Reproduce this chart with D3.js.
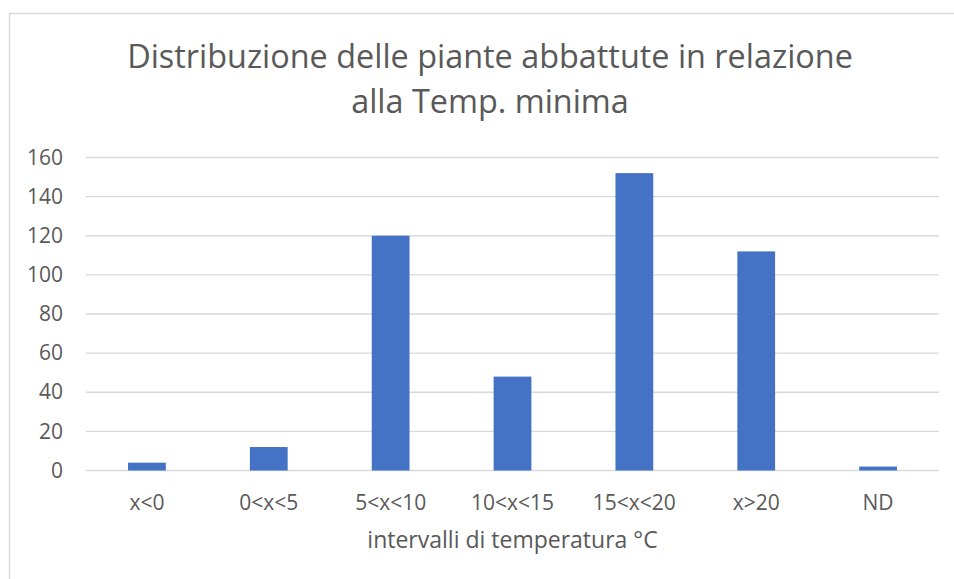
<!DOCTYPE html>
<html><head><meta charset="utf-8">
<script src="https://cdn.jsdelivr.net/npm/d3@7"></script>
<style>html,body{margin:0;padding:0;background:#fff;}</style>
</head><body>
<svg id="c" width="954" height="579"></svg>
<script>
const categories = ["x<0","0<x<5","5<x<10","10<x<15","15<x<20","x>20","ND"];
const values = [4,12,120,48,152,112,2];
const yTicks = [0,20,40,60,80,100,120,140,160];
const titleLines = ["Distribuzione delle piante abbattute in relazione","alla Temp. minima"];
const xTitle = "intervalli di temperatura °C";

const svg = d3.select("#c");
const font = "'Open Sans', sans-serif";
const textCol = "#595959";
const m = {left:86, right:939, top:157.5, bottom:470.5};

svg.append("rect").attr("x",9.5).attr("y",13.5).attr("width",960).attr("height",600)
  .attr("fill","none").attr("stroke","#d9d9d9").attr("stroke-width",1.5);

const x = d3.scaleBand().domain(categories).range([m.left,m.right]).paddingInner(0.69).paddingOuter(0.345);
const y = d3.scaleLinear().domain([0,160]).range([m.bottom,m.top]);

svg.append("g").selectAll("line").data(yTicks).join("line")
  .attr("x1",m.left).attr("x2",m.right)
  .attr("y1",d=>y(d)).attr("y2",d=>y(d))
  .attr("stroke","#d9d9d9").attr("stroke-width",1.3);

svg.append("g").selectAll("rect").data(values).join("rect")
  .attr("x",(d,i)=>x(categories[i])).attr("width",x.bandwidth())
  .attr("y",d=>y(d)).attr("height",d=>y(0)-y(d))
  .attr("fill","#4472c4");

const yAxis = d3.axisLeft(y).tickValues(yTicks).tickSize(0).tickPadding(0);
const ga = svg.append("g").attr("transform","translate(63,0)").call(yAxis);
ga.select(".domain").remove();
ga.selectAll("text").attr("font-family",font).attr("font-size",21).attr("fill",textCol);

const xAxis = d3.axisBottom(x).tickSize(0).tickPadding(0);
const gx = svg.append("g").attr("transform","translate(0,495)").call(xAxis);
gx.select(".domain").remove();
gx.selectAll("text").attr("font-family",font).attr("font-size",21).attr("fill",textCol);

svg.append("text").attr("x",(m.left+m.right)/2).attr("y",548)
  .attr("text-anchor","middle").attr("font-family",font).attr("font-size",23)
  .attr("fill",textCol).text(xTitle);

svg.selectAll(".title").data(titleLines).join("text").attr("class","title")
  .attr("x",490).attr("y",(d,i)=>68+i*45)
  .attr("text-anchor","middle").attr("font-family",font).attr("font-size",32.4)
  .attr("fill",textCol).text(d=>d);
</script>
</body></html>
